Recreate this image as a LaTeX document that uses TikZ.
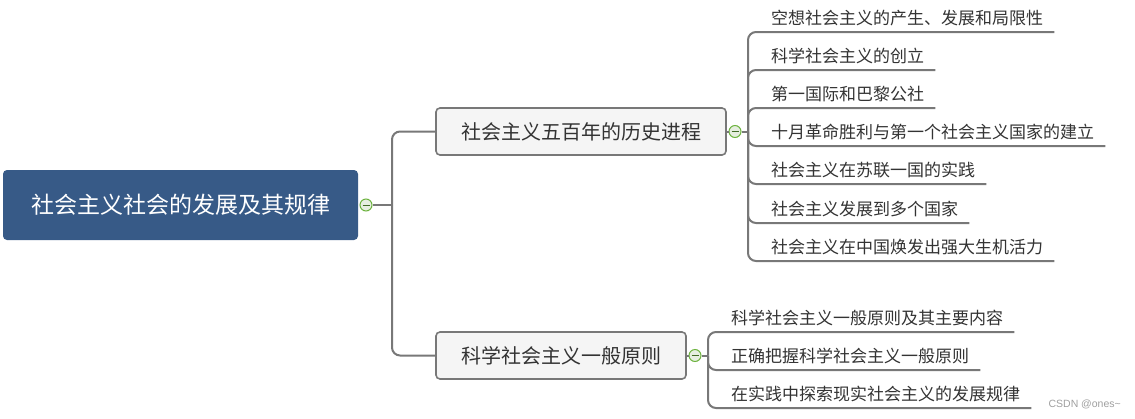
\documentclass[tikz,border=0pt]{standalone}
\usepackage{fontspec}
\setmainfont{Noto Sans CJK SC}
\newfontfamily\markfont{Liberation Sans}
\definecolor{rootblue}{HTML}{375A87}
\definecolor{linegray}{HTML}{787878}
\definecolor{boxfill}{HTML}{F5F5F5}
\definecolor{txtgray}{HTML}{333333}
\definecolor{foldgreen}{HTML}{6DB33F}
\definecolor{foldfill}{HTML}{E6EEE0}

\begin{document}
\begin{tikzpicture}[
            x=1pt, y=-1pt,
            root/.style={
                rectangle, rounded corners=4pt, fill=rootblue,
                text=white, font=\fontsize{23}{23}\selectfont,
                minimum width=355pt, minimum height=70pt, inner sep=0pt,
            },
            topic/.style={
                rectangle, rounded corners=4pt, draw=linegray, line width=1.6pt,
                fill=boxfill, text=txtgray, font=\fontsize{20}{20}\selectfont,
                minimum height=47pt, inner sep=0pt,
            },
            leaf/.style={
                anchor=west, inner sep=0pt, text=txtgray,
                font=\fontsize{17}{17}\selectfont,
            },
            branch/.style={draw=linegray, line width=2pt, rounded corners=8pt},
            fold/.style={
                circle, draw=foldgreen, fill=foldfill, line width=1pt,
                minimum size=12pt, inner sep=0pt,
                path picture={\draw[foldgreen!60!black, line width=1pt]
                    ([xshift=-3.5pt]path picture bounding box.center) --
                    ([xshift=3.5pt]path picture bounding box.center);},
            }]
        \useasboundingbox (0,0) rectangle (1135,418);
        % root and main topics
        \node[root] (root) at (180.5,205) {社会主义社会的发展及其规律};
        \node[fold] (f0) at (366,205) {};
        \node[topic, minimum width=290pt] (t1) at (581,131.5) {社会主义五百年的历史进程};
        \node[fold] (f1) at (735,131.5) {};
        \node[topic, minimum width=250pt] (t2) at (561,355.5) {科学社会主义一般原则};
        \node[fold] (f2) at (695,355.5) {};
        \coordinate (j0) at (392,205);
        \coordinate (j1) at (748,131.5);
        \coordinate (j2) at (708,355.5);
        % subtopics
        \node[leaf] (a1) at (771,18) {空想社会主义的产生、发展和局限性};
        \node[leaf] (a2) at (771,56) {科学社会主义的创立};
        \node[leaf] (a3) at (771,94) {第一国际和巴黎公社};
        \node[leaf] (a4) at (771,132) {十月革命胜利与第一个社会主义国家的建立};
        \node[leaf] (a5) at (771,170) {社会主义在苏联一国的实践};
        \node[leaf] (a6) at (771,209) {社会主义发展到多个国家};
        \node[leaf] (a7) at (771,247) {社会主义在中国焕发出强大生机活力};
        \node[leaf] (b1) at (731,318) {科学社会主义一般原则及其主要内容};
        \node[leaf] (b2) at (731,356) {正确把握科学社会主义一般原则};
        \node[leaf] (b3) at (731,394) {在实践中探索现实社会主义的发展规律};
        \node[font=\markfont\fontsize{10.5}{10.5}\selectfont, text=gray!75, anchor=east,
              inner sep=0pt] (mark) at (1121,404) {CSDN @ones\textasciitilde};
        % connectors
        \draw[branch] (f0.east) -- (j0);
        \draw[branch] (j0) |- (t1.west);
        \draw[branch] (j0) |- (t2.west);
        \draw[branch] (t1.east) -- (f1.west);
        \draw[branch] (f1.east) -- (j1);
        \draw[branch] (t2.east) -- (f2.west);
        \draw[branch] (f2.east) -- (j2);
        \draw[branch] (j1) |- ([shift={(11,14)}]a1.east);
        \draw[branch] (j1) |- ([shift={(11,14)}]a2.east);
        \draw[branch] (j1) |- ([shift={(11,14)}]a3.east);
        \draw[branch] (j1) |- ([shift={(11,14)}]a4.east);
        \draw[branch] (j1) |- ([shift={(11,14)}]a5.east);
        \draw[branch] (j1) |- ([shift={(11,14)}]a6.east);
        \draw[branch] (j1) |- ([shift={(11,14)}]a7.east);
        \draw[branch] (j2) |- ([shift={(11,14)}]b1.east);
        \draw[branch] (j2) |- ([shift={(11,14)}]b2.east);
        \draw[branch] (j2) |- ([shift={(11,14)}]b3.east);
        \end{tikzpicture}
\end{document}
